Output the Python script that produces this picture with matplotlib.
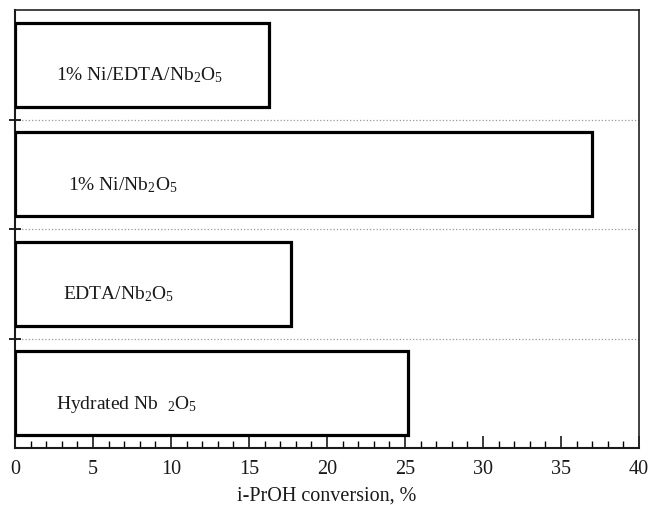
import numpy as np
import matplotlib
matplotlib.use('Agg')
import matplotlib.pyplot as plt
from matplotlib.ticker import MultipleLocator

plt.rcParams['font.family'] = ['Liberation Serif', 'DejaVu Serif']
plt.rcParams['mathtext.fontset'] = 'custom'
plt.rcParams['mathtext.rm'] = 'Liberation Serif'
plt.rcParams['mathtext.it'] = 'Liberation Serif:italic'

# data (bottom to top)
labels = ['Hydrated Nb  ${}_2$O$_5$', 'EDTA/Nb$_2$O$_5$',
          '1% Ni/Nb$_2$O$_5$', '1% Ni/EDTA/Nb$_2$O$_5$']
conversion = [25.2, 17.7, 37.0, 16.3]

# where each label starts inside its bar (x in %)
label_x = [2.65, 3.1, 3.4, 2.65]

fig = plt.figure(figsize=(6.48, 5.06), dpi=100)
ax = fig.add_axes([0.0231, 0.1126, 0.963, 0.8656])

ypos = np.arange(len(conversion))
ax.barh(ypos, conversion, height=0.77, color='white', edgecolor='black',
        linewidth=2.3, zorder=3)

for y, txt, lx in zip(ypos, labels, label_x):
    ax.text(lx, y - 0.135, txt, fontsize=14, color='#1a1a1a',
            ha='left', va='baseline', zorder=4)

ax.set_xlim(0, 40)
ax.set_ylim(-0.5, 3.5)

# x axis: major every 5, minor every 1, ticks pointing in
ax.xaxis.set_major_locator(MultipleLocator(5))
ax.xaxis.set_minor_locator(MultipleLocator(1))
ax.tick_params(axis='x', which='major', direction='in', length=9, width=1.2,
               labelsize=14.5, pad=8, colors='#1a1a1a')
ax.tick_params(axis='x', which='minor', direction='in', length=5, width=1.0)

# y axis: ticks between categories, no labels, dotted separators
ax.set_yticks([0.5, 1.5, 2.5])
ax.set_yticklabels([])
ax.tick_params(axis='y', direction='inout', length=8, width=1.2)
ax.grid(axis='y', linestyle=':', color='#999999', linewidth=0.9, zorder=1)

for side in ['left', 'bottom']:
    ax.spines[side].set_linewidth(1.5)
    ax.spines[side].set_color('#1a1a1a')
for side in ['top', 'right']:
    ax.spines[side].set_linewidth(1.2)
    ax.spines[side].set_color('#222222')

ax.set_xlabel('i-PrOH conversion, %', fontsize=14.5, labelpad=5, color='#1a1a1a')

fig.savefig('out.png', dpi=100)
